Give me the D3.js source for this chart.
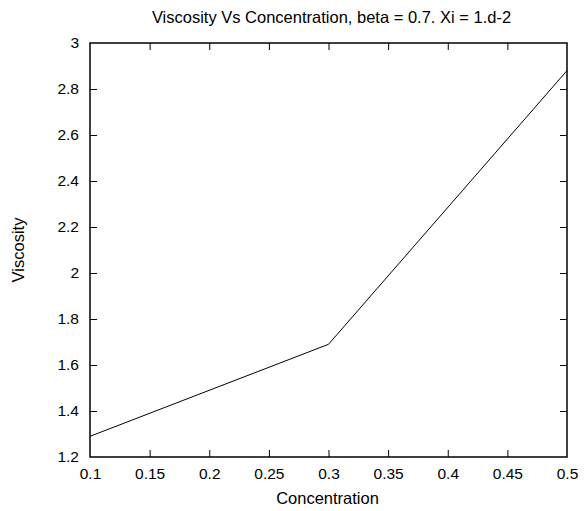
<!DOCTYPE html>
<html>
<head>
<meta charset="utf-8">
<script src="https://cdn.jsdelivr.net/npm/d3@7"></script>
<style>
  html, body { margin: 0; padding: 0; background: #fff; }
  text { font-family: "Liberation Sans", Arial, Helvetica, sans-serif; fill: #000; }
</style>
</head>
<body>
<svg id="chart" width="585" height="511"></svg>
<script>
// Viscosity sampled at three concentrations
const concentration = [0.1, 0.3, 0.5];
const viscosity = [1.29, 1.69, 2.88];

const xTicks = [0.1, 0.15, 0.2, 0.25, 0.3, 0.35, 0.4, 0.45, 0.5];
const yTicks = [1.2, 1.4, 1.6, 1.8, 2, 2.2, 2.4, 2.6, 2.8, 3];

const titleText = "Viscosity Vs Concentration, beta = 0.7. Xi = 1.d-2";
const xLabel = "Concentration";
const yLabel = "Viscosity";

const W = 585, H = 511;
const m = { left: 90, right: 18, top: 43, bottom: 54 };
const pw = W - m.left - m.right, ph = H - m.top - m.bottom;

const svg = d3.select("#chart");
const g = svg.append("g").attr("transform", `translate(${m.left},${m.top})`);

const x = d3.scaleLinear().domain([0.1, 0.5]).range([0, pw]);
const y = d3.scaleLinear().domain([1.2, 3]).range([ph, 0]);

const tickLen = 7;
const fontSize = "15.5px";
const labelSize = "16.5px";
const fmt = d => String(+d.toFixed(2));

// bottom axis: inward ticks with labels
const axBottom = g.append("g").attr("transform", `translate(0,${ph})`)
  .call(d3.axisBottom(x).tickValues(xTicks).tickFormat(fmt).tickSize(-tickLen).tickPadding(11));
// left axis
const axLeft = g.append("g")
  .call(d3.axisLeft(y).tickValues(yTicks).tickFormat(fmt).tickSize(-tickLen).tickPadding(11));
// mirrored ticks on top and right
const axTop = g.append("g")
  .call(d3.axisTop(x).tickValues(xTicks.slice(1, -1)).tickFormat("").tickSize(-tickLen));
const axRight = g.append("g").attr("transform", `translate(${pw},0)`)
  .call(d3.axisRight(y).tickValues(yTicks.slice(1, -1)).tickFormat("").tickSize(-tickLen));

[axBottom, axLeft, axTop, axRight].forEach(a => {
  a.select(".domain").remove();
  a.selectAll("line").attr("stroke", "#000").attr("stroke-width", 1);
  a.selectAll("text").style("font-size", fontSize).attr("fill", "#000")
    .style("font-family", '"Liberation Sans", Arial, sans-serif');
});
axBottom.selectAll(".tick line").filter(d => d === 0.1 || d === 0.5).remove();
axLeft.selectAll(".tick line").filter(d => d === 1.2 || d === 3).remove();

// plot frame
g.append("rect").attr("x", 0).attr("y", 0).attr("width", pw).attr("height", ph)
  .attr("fill", "none").attr("stroke", "#000").attr("stroke-width", 1.5);

// data line
const pts = concentration.map((c, i) => [c, viscosity[i]]);
g.append("path").datum(pts)
  .attr("fill", "none").attr("stroke", "#000").attr("stroke-width", 1)
  .attr("d", d3.line().x(d => x(d[0])).y(d => y(d[1])));

// titles
svg.append("text").attr("x", m.left + pw / 2 + 3).attr("y", 23)
  .attr("text-anchor", "middle").style("font-size", labelSize).text(titleText);
svg.append("text").attr("x", m.left + pw / 2 - 1).attr("y", 504)
  .attr("text-anchor", "middle").style("font-size", labelSize).text(xLabel);
svg.append("text").attr("transform", `translate(24,${m.top + ph / 2}) rotate(-90)`)
  .attr("text-anchor", "middle").style("font-size", labelSize).text(yLabel);
</script>
</body>
</html>
